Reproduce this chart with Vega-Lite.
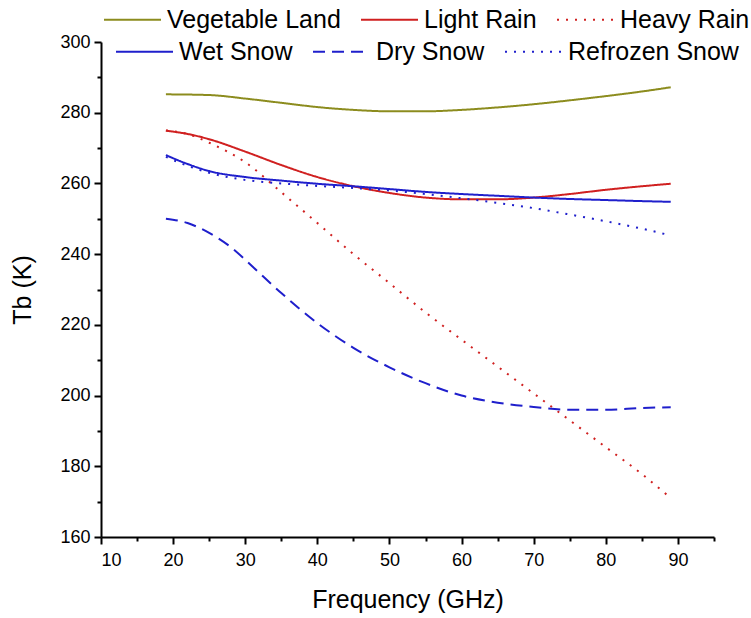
{
  "$schema": "https://vega.github.io/schema/vega-lite/v6.json",
  "autosize": "none",
  "width": 613,
  "height": 495,
  "padding": {"left": 101, "top": 42, "right": 37, "bottom": 81},
  "background": "white",
  "config": {
    "view": {"stroke": null},
    "font": "Liberation Sans",
    "legend": {
      "orient": "none",
      "direction": "horizontal",
      "symbolType": "stroke",
      "symbolSize": 3249,
      "symbolStrokeWidth": 2,
      "labelFontSize": 25,
      "labelFont": "Liberation Sans",
      "labelColor": "black",
      "labelLimit": 0,
      "columnPadding": 16,
      "labelOffset": 5,
      "padding": 0,
      "title": null
    }
  },
  "datasets": {
    "tb": [
      {"series": "Vegetable Land", "freq": 19, "tb": 285.2},
      {"series": "Vegetable Land", "freq": 25, "tb": 285.0},
      {"series": "Vegetable Land", "freq": 30, "tb": 284.0},
      {"series": "Vegetable Land", "freq": 35, "tb": 282.8},
      {"series": "Vegetable Land", "freq": 40, "tb": 281.6},
      {"series": "Vegetable Land", "freq": 45, "tb": 280.8},
      {"series": "Vegetable Land", "freq": 50, "tb": 280.4},
      {"series": "Vegetable Land", "freq": 55, "tb": 280.4},
      {"series": "Vegetable Land", "freq": 60, "tb": 280.8},
      {"series": "Vegetable Land", "freq": 65, "tb": 281.5},
      {"series": "Vegetable Land", "freq": 70, "tb": 282.4},
      {"series": "Vegetable Land", "freq": 75, "tb": 283.5},
      {"series": "Vegetable Land", "freq": 80, "tb": 284.7},
      {"series": "Vegetable Land", "freq": 85, "tb": 286.0},
      {"series": "Vegetable Land", "freq": 89, "tb": 287.2},

      {"series": "Light Rain", "freq": 19, "tb": 274.9},
      {"series": "Light Rain", "freq": 22, "tb": 274.0},
      {"series": "Light Rain", "freq": 25, "tb": 272.5},
      {"series": "Light Rain", "freq": 30, "tb": 269.0},
      {"series": "Light Rain", "freq": 35, "tb": 265.2},
      {"series": "Light Rain", "freq": 40, "tb": 261.8},
      {"series": "Light Rain", "freq": 45, "tb": 259.2},
      {"series": "Light Rain", "freq": 50, "tb": 257.3},
      {"series": "Light Rain", "freq": 55, "tb": 256.0},
      {"series": "Light Rain", "freq": 60, "tb": 255.5},
      {"series": "Light Rain", "freq": 65, "tb": 255.5},
      {"series": "Light Rain", "freq": 70, "tb": 256.0},
      {"series": "Light Rain", "freq": 75, "tb": 257.0},
      {"series": "Light Rain", "freq": 80, "tb": 258.2},
      {"series": "Light Rain", "freq": 85, "tb": 259.2},
      {"series": "Light Rain", "freq": 89, "tb": 259.9},

      {"series": "Heavy Rain", "freq": 19, "tb": 275.0},
      {"series": "Heavy Rain", "freq": 22, "tb": 274.0},
      {"series": "Heavy Rain", "freq": 25, "tb": 271.5},
      {"series": "Heavy Rain", "freq": 30, "tb": 266.0},
      {"series": "Heavy Rain", "freq": 35, "tb": 257.5},
      {"series": "Heavy Rain", "freq": 40, "tb": 248.8},
      {"series": "Heavy Rain", "freq": 45, "tb": 240.0},
      {"series": "Heavy Rain", "freq": 50, "tb": 231.8},
      {"series": "Heavy Rain", "freq": 55, "tb": 223.5},
      {"series": "Heavy Rain", "freq": 60, "tb": 215.8},
      {"series": "Heavy Rain", "freq": 65, "tb": 208.2},
      {"series": "Heavy Rain", "freq": 70, "tb": 200.6},
      {"series": "Heavy Rain", "freq": 75, "tb": 193.0},
      {"series": "Heavy Rain", "freq": 80, "tb": 185.4},
      {"series": "Heavy Rain", "freq": 85, "tb": 177.8},
      {"series": "Heavy Rain", "freq": 89, "tb": 171.0},

      {"series": "Wet Snow", "freq": 19, "tb": 268.0},
      {"series": "Wet Snow", "freq": 22, "tb": 265.5},
      {"series": "Wet Snow", "freq": 25, "tb": 263.5},
      {"series": "Wet Snow", "freq": 30, "tb": 261.8},
      {"series": "Wet Snow", "freq": 35, "tb": 260.8},
      {"series": "Wet Snow", "freq": 40, "tb": 259.9},
      {"series": "Wet Snow", "freq": 45, "tb": 259.2},
      {"series": "Wet Snow", "freq": 50, "tb": 258.4},
      {"series": "Wet Snow", "freq": 55, "tb": 257.6},
      {"series": "Wet Snow", "freq": 60, "tb": 257.0},
      {"series": "Wet Snow", "freq": 65, "tb": 256.5},
      {"series": "Wet Snow", "freq": 70, "tb": 256.0},
      {"series": "Wet Snow", "freq": 75, "tb": 255.6},
      {"series": "Wet Snow", "freq": 80, "tb": 255.3},
      {"series": "Wet Snow", "freq": 85, "tb": 255.0},
      {"series": "Wet Snow", "freq": 89, "tb": 254.8},

      {"series": "Dry Snow", "freq": 19, "tb": 250.0},
      {"series": "Dry Snow", "freq": 22, "tb": 248.8},
      {"series": "Dry Snow", "freq": 25, "tb": 246.0},
      {"series": "Dry Snow", "freq": 28, "tb": 242.0},
      {"series": "Dry Snow", "freq": 31, "tb": 236.5},
      {"series": "Dry Snow", "freq": 35, "tb": 229.0},
      {"series": "Dry Snow", "freq": 40, "tb": 220.5},
      {"series": "Dry Snow", "freq": 45, "tb": 213.5},
      {"series": "Dry Snow", "freq": 50, "tb": 208.0},
      {"series": "Dry Snow", "freq": 55, "tb": 203.5},
      {"series": "Dry Snow", "freq": 60, "tb": 200.0},
      {"series": "Dry Snow", "freq": 65, "tb": 198.0},
      {"series": "Dry Snow", "freq": 70, "tb": 196.8},
      {"series": "Dry Snow", "freq": 75, "tb": 196.0},
      {"series": "Dry Snow", "freq": 80, "tb": 196.0},
      {"series": "Dry Snow", "freq": 85, "tb": 196.5},
      {"series": "Dry Snow", "freq": 89, "tb": 196.7},

      {"series": "Refrozen Snow", "freq": 19, "tb": 267.5},
      {"series": "Refrozen Snow", "freq": 22, "tb": 265.0},
      {"series": "Refrozen Snow", "freq": 25, "tb": 263.0},
      {"series": "Refrozen Snow", "freq": 30, "tb": 261.0},
      {"series": "Refrozen Snow", "freq": 35, "tb": 260.0},
      {"series": "Refrozen Snow", "freq": 40, "tb": 259.3},
      {"series": "Refrozen Snow", "freq": 45, "tb": 258.7},
      {"series": "Refrozen Snow", "freq": 50, "tb": 258.0},
      {"series": "Refrozen Snow", "freq": 55, "tb": 257.0},
      {"series": "Refrozen Snow", "freq": 60, "tb": 255.8},
      {"series": "Refrozen Snow", "freq": 65, "tb": 254.5},
      {"series": "Refrozen Snow", "freq": 70, "tb": 253.0},
      {"series": "Refrozen Snow", "freq": 75, "tb": 251.2},
      {"series": "Refrozen Snow", "freq": 80, "tb": 249.3},
      {"series": "Refrozen Snow", "freq": 85, "tb": 247.2},
      {"series": "Refrozen Snow", "freq": 89, "tb": 245.3}
    ]
  },
  "data": {"name": "tb"},
  "encoding": {
    "x": {
      "field": "freq", "type": "quantitative",
      "scale": {"domain": [10, 95], "nice": false, "zero": false},
      "axis": {
        "title": "Frequency (GHz)",
        "values": [10, 15, 20, 25, 30, 35, 40, 45, 50, 55, 60, 65, 70, 75, 80, 85, 90, 95],
        "labelExpr": "(datum.value % 10 === 0 && datum.value <= 90) ? datum.label : ''",
        "labelOverlap": false,
        "grid": false,
        "domainColor": "black", "domainWidth": 2,
        "tickColor": "black", "tickWidth": 2,
        "tickSize": {"condition": {"test": "datum.value % 10 === 0", "value": 7}, "value": 4},
        "labelFontSize": 18, "labelColor": "black", "labelFont": "Liberation Sans", "labelPadding": 7,
        "titleFontSize": 25, "titleFontWeight": "normal", "titleColor": "black", "titleFont": "Liberation Sans", "titlePadding": 18
      }
    },
    "y": {
      "field": "tb", "type": "quantitative",
      "scale": {"domain": [160, 300], "nice": false, "zero": false},
      "axis": {
        "title": "Tb (K)",
        "values": [160, 170, 180, 190, 200, 210, 220, 230, 240, 250, 260, 270, 280, 290, 300],
        "labelExpr": "(datum.value % 20 === 0) ? datum.label : ''",
        "labelOverlap": false,
        "grid": false,
        "domainColor": "black", "domainWidth": 2,
        "tickColor": "black", "tickWidth": 2,
        "tickSize": {"condition": {"test": "datum.value % 20 === 0", "value": 7}, "value": 4},
        "labelFontSize": 18, "labelColor": "black", "labelFont": "Liberation Sans", "labelPadding": 4,
        "titleFontSize": 25, "titleFontWeight": "normal", "titleColor": "black", "titleFont": "Liberation Sans", "titlePadding": 24
      }
    }
  },
  "layer": [
    {
      "transform": [{"filter": {"field": "series", "oneOf": ["Vegetable Land", "Light Rain", "Heavy Rain"]}}],
      "mark": {"type": "line", "interpolate": "monotone", "strokeWidth": 2},
      "encoding": {
        "color": {
          "field": "series", "type": "nominal",
          "scale": {"domain": ["Vegetable Land", "Light Rain", "Heavy Rain"], "range": ["#8c8c1e", "#d02020", "#d02020"]},
          "legend": {"legendX": 2, "legendY": -52}
        },
        "strokeDash": {
          "field": "series", "type": "nominal",
          "scale": {"domain": ["Vegetable Land", "Light Rain", "Heavy Rain"], "range": [[1, 0], [1, 0], [2, 7]]},
          "legend": {"legendX": 2, "legendY": -52}
        }
      }
    },
    {
      "transform": [{"filter": {"field": "series", "oneOf": ["Wet Snow", "Dry Snow", "Refrozen Snow"]}}],
      "mark": {"type": "line", "interpolate": "monotone", "strokeWidth": 2},
      "encoding": {
        "color": {
          "field": "series", "type": "nominal",
          "scale": {"domain": ["Wet Snow", "Dry Snow", "Refrozen Snow"], "range": ["#1f1fcc", "#1f1fcc", "#1f1fcc"]},
          "legend": {"legendX": 14, "legendY": -20}
        },
        "strokeDash": {
          "field": "series", "type": "nominal",
          "scale": {"domain": ["Wet Snow", "Dry Snow", "Refrozen Snow"], "range": [[1, 0], [12, 7], [2, 7]]},
          "legend": {"legendX": 14, "legendY": -20}
        }
      }
    }
  ],
  "resolve": {"scale": {"color": "independent", "strokeDash": "independent"}}
}
